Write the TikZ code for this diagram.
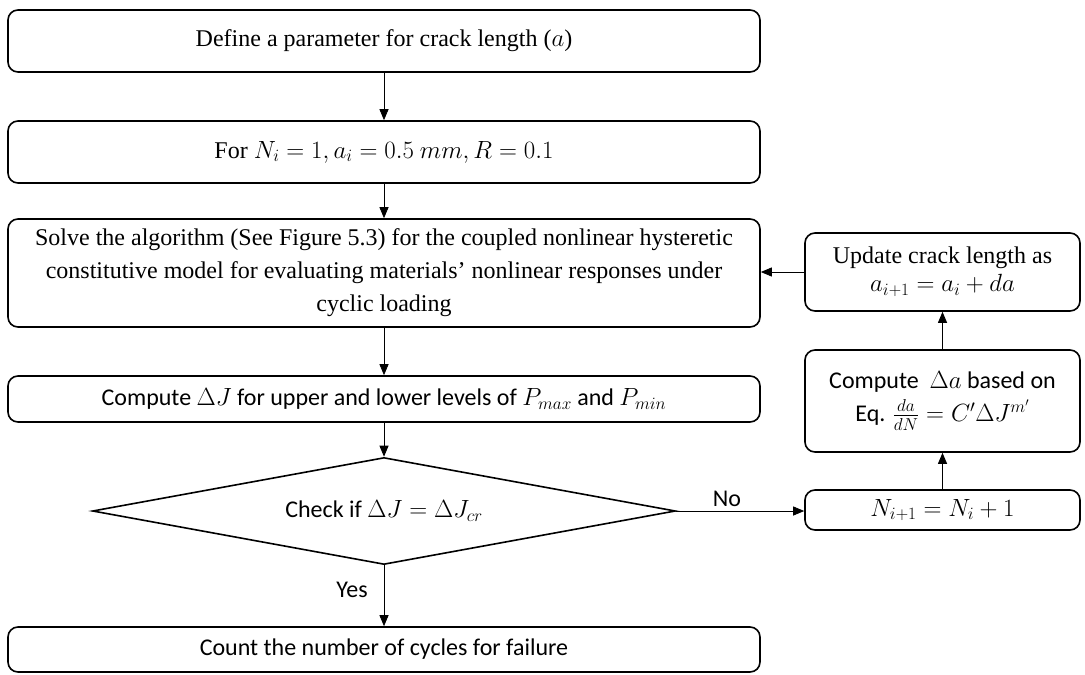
\documentclass[tikz,border=0pt]{standalone}
\usepackage{fontspec}
\setmainfont{Liberation Serif}
\newfontfamily\calib{Carlito}
\usetikzlibrary{arrows.meta,shapes.geometric}
\begin{document}
\begin{tikzpicture}[x=1pt,y=-1pt,
  box/.style={draw, line width=1.6pt, rounded corners=10pt, inner sep=0pt, align=center,
    font=\fontsize{24}{33}\selectfont},
  cbox/.style={box, font=\calib\fontsize{24}{33}\selectfont},
  arr/.style={-{Triangle[length=11pt,width=9pt]}, line width=0.9pt},
  lbl/.style={font=\calib\fontsize{24}{28}\selectfont}]
\useasboundingbox (0,0) rectangle (1085,675);
% left column
\node[box, minimum width=752pt, minimum height=62pt] (b1) at (384,41)
  {Define a parameter for crack length ($a$)};
\node[box, minimum width=752pt, minimum height=62pt] (b2) at (384,152)
  {For $N_i = 1, a_i = 0.5\ mm, R = 0.1$};
\node[box, minimum width=752pt, minimum height=108pt] (b3) at (384,273)
  {Solve the algorithm (See Figure 5.3) for the coupled nonlinear hysteretic\\
   constitutive model for evaluating materials' nonlinear responses under\\
   cyclic loading};
\node[cbox, minimum width=752pt, minimum height=46pt] (b4) at (384,399)
  {Compute $\Delta J$ for upper and lower levels of $P_{max}$ and $P_{min}$};
\node[diamond, draw, line width=1.6pt, aspect=5.45, minimum width=583pt, minimum height=107pt,
  inner sep=0pt, font=\calib\fontsize{24}{28}\selectfont] (d) at (384,511)
  {Check if $\Delta J = \Delta J_{cr}$};
\node[cbox, minimum width=752pt, minimum height=45pt] (b5) at (384,649.5)
  {Count the number of cycles for failure};
% right column
\node[box, minimum width=275pt, minimum height=78pt, font=\fontsize{24}{28}\selectfont] (r1) at (942.5,272)
  {Update crack length as\\ $a_{i+1} = a_i + da$};
\node[cbox, minimum width=275pt, minimum height=102pt, font=\calib\fontsize{24}{33}\selectfont] (r2) at (942.5,401)
  {Compute \ $\Delta a$ based on\\ Eq. $\frac{da}{dN} = C'\Delta J^{m'}$};
\node[cbox, minimum width=275pt, minimum height=40pt] (r3) at (942.5,510)
  {$N_{i+1} = N_i + 1$};
% labels
\node[lbl] (yes) at (352,590) {Yes};
\node[lbl] (no) at (727,499) {No};
% connectors
\draw[arr] (b1) -- (b2);
\draw[arr] (b2) -- (b3);
\draw[arr] (b3) -- (b4);
\draw[arr] (b4) -- (d);
\draw[arr] (d) -- (b5);
\draw[arr] (d.east) -- (d.east -| r3.west);
\draw[arr] (r3) -- (r2);
\draw[arr] (r2) -- (r1);
\draw[arr] (r1.west) -- (r1.west -| b3.east);
\end{tikzpicture}
\end{document}
